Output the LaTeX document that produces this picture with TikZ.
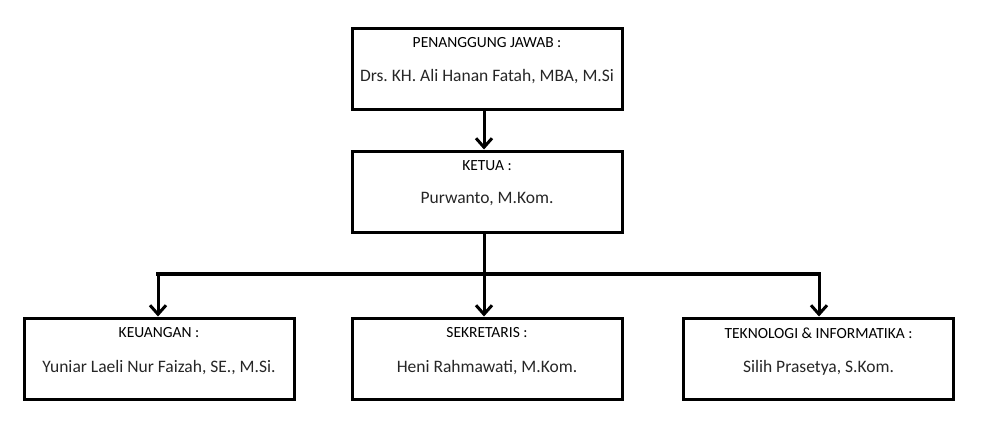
\documentclass[tikz,border=0pt]{standalone}
\usepackage{fontspec}
\setmainfont{Carlito}
\usetikzlibrary{arrows.meta,calc}
\begin{document}
\frenchspacing
\begin{tikzpicture}[x=1pt,y=-1pt,
  box/.style={draw=black,line width=3pt,minimum width=270pt,minimum height=81pt,inner sep=0pt},
  ttl/.style={font=\fontsize{15.5}{17}\selectfont,text=black,anchor=center},
  nm/.style={font=\fontsize{17.5}{20}\selectfont,text=black!85,anchor=center},
  conn/.style={line width=3pt,-{Straight Barb[length=9pt,width=16pt,line width=3pt]}},
  bar/.style={line width=3.5pt,line cap=rect}]
\useasboundingbox (0,0) rectangle (982,440);
\node[box] (pj) at (487,68.5) {};
\node[box] (kt) at (487,191.5) {};
\node[box] (ku) at (159,358.5) {};
\node[box] (sk) at (487,358.5) {};
\node[box] (ti) at (818.5,358.5) {};
\node[ttl] (pjt) at ($(pj.north)+(0,16.5)$) {PENANGGUNG JAWAB :};
\node[nm]  (pjn) at ($(pj.north)+(0,50)$) {Drs. KH. Ali Hanan Fatah, MBA, M.Si};
\node[ttl] (ktt) at ($(kt.north)+(0,16.5)$) {KETUA :};
\node[nm]  (ktn) at ($(kt.north)+(0,49)$) {Purwanto, M.Kom.};
\node[ttl] (kut) at ($(ku.north)+(0,16.5)$) {KEUANGAN :};
\node[nm]  (kun) at ($(ku.north)+(0,51)$) {Yuniar Laeli Nur Faizah, SE., M.Si.};
\node[ttl] (skt) at ($(sk.north)+(0,16.5)$) {SEKRETARIS :};
\node[nm]  (skn) at ($(sk.north)+(0,51)$) {Heni Rahmawati, M.Kom.};
\node[ttl] (tit) at ($(ti.north)+(0,16.5)$) {TEKNOLOGI \& INFORMATIKA :};
\node[nm]  (tin) at ($(ti.north)+(0,51)$) {Silih Prasetya, S.Kom.};
\coordinate (sp) at (484,274);
\coordinate (bl) at (158,274);
\coordinate (br) at (819,274);
\draw[conn] (pj.south -| sp) -- (kt.north -| sp);
\draw[line width=3pt] (kt.south -| sp) -- (sp);
\draw[bar] (bl) -- (br);
\draw[conn] (bl) -- (ku.north -| bl);
\draw[conn] (sp) -- (sk.north -| sp);
\draw[conn] (br) -- (ti.north -| br);
\end{tikzpicture}
\end{document}
